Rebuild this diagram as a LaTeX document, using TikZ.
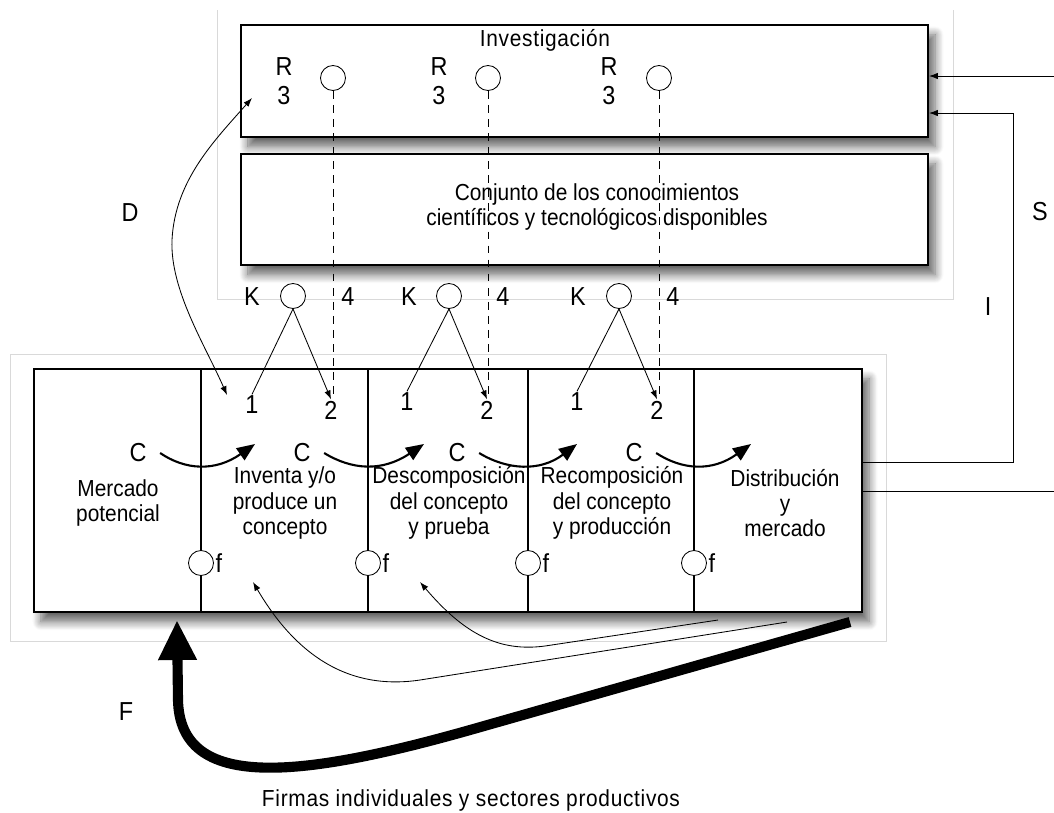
\documentclass[tikz,border=0pt]{standalone}
\usepackage{fontspec}
\setmainfont[FakeStretch=0.9]{Liberation Sans}
\usepackage{tikz}
\usetikzlibrary{arrows.meta,shadows.blur}

\tikzset{
  box/.style={draw,line width=1.3pt,fill=white,
    blur shadow={shadow xshift=5pt,shadow yshift=-7pt,shadow blur steps=10,shadow blur radius=6pt,shadow opacity=60}},
  port/.style={circle,draw,fill=white,line width=0.6pt,minimum size=0.625cm,inner sep=0pt},
  lbl/.style={font=\fontsize{16.5}{18}\selectfont,inner sep=1pt},
  sym/.style={font=\fontsize{18.5}{20}\selectfont,inner sep=1pt},
  wide/.style={lbl,font=\fontsize{16.5}{18}\selectfont\addfontfeatures{LetterSpace=3}},
  txt/.style={lbl,align=center},
  thin/.style={line width=0.6pt},
  arr/.style={thin,-{Latex[length=0.22cm,width=0.16cm]}},
  frame/.style={gray!30,line width=0.6pt},
  carrow/.style={line width=1.5pt,-{Triangle[length=0.45cm,width=0.36cm]}},
  dash4/.style={thin,dash pattern=on 5.5pt off 4.5pt},
  div/.style={line width=0.9pt},
}

\begin{document}
\begin{tikzpicture}[x=0.025cm,y=-0.025cm]
        \useasboundingbox (0,0) rectangle (1054,812);

        % Faint frames
        \draw[frame] (217,10) -- (217,299) -- (953,299) -- (953,10);
        \draw[frame] (10,354) rectangle (886,641);

        % Upper boxes
        \node[box,minimum width=17.175cm,minimum height=2.8cm] (inv) at (584.5,81) {};
        \node[box,minimum width=17.175cm,minimum height=2.775cm] (con) at (584.5,209.5) {};
        \node[wide] (inv-txt) at (545,40) {Investigación};
        \node[txt] (con-txt) at (597,207) {Conjunto de los conocimientos\\científicos y tecnológicos disponibles};

        % Research points
        \node[port] (r1) at (333,78) {};
        \node[port] (r2) at (488,78) {};
        \node[port] (r3) at (659,78) {};
        \node[sym,align=center] (r1-lbl) at (284,81) {R\\[1pt]3};
        \node[sym,align=center] (r2-lbl) at (439,81) {R\\[1pt]3};
        \node[sym,align=center] (r3-lbl) at (609,81) {R\\[1pt]3};

        % Firm box
        \node[box,minimum width=20.7cm,minimum height=6.075cm] (firm) at (448,490.5) {};
        \draw[div] (firm.north -| 201,0) -- (firm.south -| 201,0);
        \draw[div] (firm.north -| 368,0) -- (firm.south -| 368,0);
        \draw[div] (firm.north -| 528,0) -- (firm.south -| 528,0);
        \draw[div] (firm.north -| 694,0) -- (firm.south -| 694,0);

        \node[txt] (cell1) at (118,503) {Mercado\\potencial};
        \node[txt] (cell2) at (285,503) {Inventa y/o\\produce un\\concepto};
        \node[txt] (cell3) at (449,503) {Descomposición\\del concepto\\y prueba};
        \node[txt] (cell4) at (612,503) {Recomposición\\del concepto\\y producción};
        \node[txt] (cell5) at (785,503) {Distribución\\y\\mercado};

        % f points
        \node[port,label={[sym]right:f}] (f1) at (201,563) {};
        \node[port,label={[sym]right:f}] (f2) at (368,563) {};
        \node[port,label={[sym]right:f}] (f3) at (528,563) {};
        \node[port,label={[sym]right:f}] (f4) at (694,563) {};

        % K points
        \node[port] (k1) at (293,296) {};
        \node[port] (k2) at (449,296) {};
        \node[port] (k3) at (619,296) {};
        \node[sym] (k1-lbl) at (252,297) {K};
        \node[sym] (k2-lbl) at (409,297) {K};
        \node[sym] (k3-lbl) at (578,297) {K};
        \node[sym] (k1-4) at (348,297) {4};
        \node[sym] (k2-4) at (503,297) {4};
        \node[sym] (k3-4) at (673,297) {4};

        \node[sym] (o1) at (252,405) {1};
        \node[sym] (o2) at (407,402) {1};
        \node[sym] (o3) at (577,402) {1};
        \node[sym] (t1) at (331,410) {2};
        \node[sym] (t2) at (487,410) {2};
        \node[sym] (t3) at (657,410) {2};

        % Dashed links
        \draw[dash4] (r1.south) -- (r1.south |- t1.north);
        \draw[dash4] (r2.south) -- (r2.south |- t2.north);
        \draw[dash4] (r3.south) -- (r3.south |- t3.north);

        % K links
        \draw[thin] (k1.south) -- (o1.north);
        \draw[arr] (k1.south) -- (t1.north);
        \draw[thin] (k2.south) -- (o2.north);
        \draw[arr] (k2.south) -- (t2.north);
        \draw[thin] (k3.south) -- (o3.north);
        \draw[arr] (k3.south) -- (t3.north);

        % C flow
        \node[sym] (c1) at (138,453) {C};
        \node[sym] (c2) at (302,453) {C};
        \node[sym] (c3) at (457,453) {C};
        \node[sym] (c4) at (634,453) {C};
        \coordinate (ct1) at (255,444);
        \coordinate (ct2) at (424,444);
        \coordinate (ct3) at (577,444);
        \coordinate (ct4) at (751,444);
        \draw[carrow] ([xshift=0.3cm]c1.east) .. controls (185,470) and (215,472) .. (ct1);
        \draw[carrow] ([xshift=0.3cm]c2.east) .. controls (352,470) and (382,472) .. (ct2);
        \draw[carrow] ([xshift=0.3cm]c3.east) .. controls (507,470) and (540,472) .. (ct3);
        \draw[carrow] ([xshift=0.3cm]c4.east) .. controls (682,470) and (712,472) .. (ct4);

        % D link
        \coordinate (d-top) at (252,98);
        \coordinate (d-bot) at (227,395);
        \draw[thin,{Latex[length=0.22cm,width=0.16cm]}-{Latex[length=0.22cm,width=0.16cm]}] (d-bot) .. controls (205,345) and (170,290) .. (172,240) .. controls (175,180) and (215,140) .. (d-top);

        % S and I links
        \coordinate (s-in) at (1054,76);
        \coordinate (s-out) at (1054,491);
        \draw[arr] (s-in) -- (inv.east |- s-in);
        \draw[arr] (firm.east |- 0,462) -| (1013,113) -- (inv.east |- 0,113);
        \draw[thin] (firm.east |- s-out) -- (s-out);

        % f feedback
        \coordinate (fb1-s) at (787,622);
        \coordinate (fb1-e) at (253,582);
        \coordinate (fb2-s) at (718,620);
        \coordinate (fb2-e) at (420,582);
        \draw[arr] (fb1-s) -- (420,680) .. controls (340,692) and (290,645) .. (fb1-e);
        \draw[arr] (fb2-s) -- (545,646) .. controls (500,652) and (465,635) .. (fb2-e);

        % F feedback
        \coordinate (big-s) at (850,622);
        \coordinate (big-e) at (177,620);
        \draw[line width=7.2pt,-{Triangle[length=1cm,width=0.9cm]}] (big-s) -- (470,730) .. controls (300,778) and (180,792) .. (178,700) -- (big-e);

        % Labels
        \node[sym] (d-lbl) at (130,213) {D};
        \node[sym] (s-lbl) at (1040,212) {S};
        \node[sym] (i-lbl) at (988,307) {I};
        \node[sym] (f-lbl) at (126,712) {F};
        \node[wide] (firm-lbl) at (471,800) {Firmas individuales y sectores productivos};
    \end{tikzpicture}
\end{document}
